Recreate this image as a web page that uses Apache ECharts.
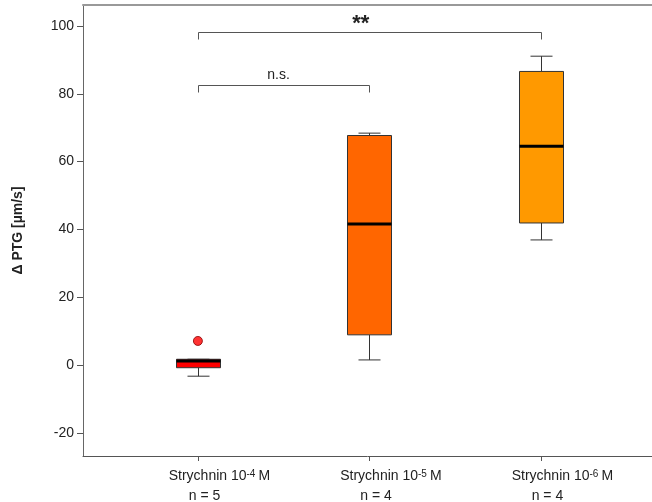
<!DOCTYPE html>
<html><head><meta charset="utf-8">
<script src="https://cdn.jsdelivr.net/npm/echarts@6/dist/echarts.min.js"></script>
<style>html,body{margin:0;padding:0;background:#fff}#c{width:652px;height:502px}</style>
</head><body><div id="c"></div>
<script>
// ---- data ----
const positions = [1, 2, 3];
const exponents = ['-4', '-5', '-6'];
const nLabels = ['n = 5', 'n = 4', 'n = 4'];
const lowWhisker = [-3.3, 1.5, 36.9];
const q1 = [-0.8, 8.9, 41.9];
const median = [1.2, 41.6, 64.5];
const q3 = [1.7, 67.7, 86.6];
const highWhisker = [1.7, 68.4, 91.1];
const boxColors = ['#FF0000', '#FF6600', '#FF9900'];
const outliers = [[1, 7.1]];
const yTicks = [-20, 0, 20, 40, 60, 80, 100];
// significance brackets: from, to, height, label, label x
const bracketFrom = [1, 1];
const bracketTo = [2, 3];
const bracketY = [82.6, 98.2];
const bracketText = ['n.s.', '**'];
const bracketTextX = [1.47, 1.95];

const boxData = positions.map((p, i) => [p, lowWhisker[i], q1[i], median[i], q3[i], highWhisker[i], i]);
const bracketData = bracketFrom.map((f, i) => [f, bracketTo[i], bracketY[i], bracketTextX[i], i]);

const chart = echarts.init(document.getElementById('c'));
const FONT = '"Liberation Sans", Arial, sans-serif';

function renderBox(params, api) {
  const x = api.value(0);
  const pLow = api.coord([x, api.value(1)]);
  const pQ1 = api.coord([x, api.value(2)]);
  const pMed = api.coord([x, api.value(3)]);
  const pQ3 = api.coord([x, api.value(4)]);
  const pHigh = api.coord([x, api.value(5)]);
  const bw = Math.round(api.size([0.256, 0])[0]);
  const cw = Math.round(api.size([0.128, 0])[0]);
  const cx = Math.round(pQ1[0]) + 0.5;
  const color = boxColors[api.value(6)];
  const ws = { stroke: '#333', lineWidth: 1 };
  const children = [
    { type: 'line', shape: { x1: cx, y1: pQ1[1], x2: cx, y2: pLow[1] }, style: ws },
    { type: 'line', shape: { x1: cx - cw / 2, y1: pLow[1], x2: cx + cw / 2, y2: pLow[1] }, style: ws },
    { type: 'line', shape: { x1: cx, y1: pQ3[1], x2: cx, y2: pHigh[1] }, style: ws },
    { type: 'line', shape: { x1: cx - cw / 2, y1: pHigh[1], x2: cx + cw / 2, y2: pHigh[1] }, style: ws },
    { type: 'rect', shape: { x: cx - bw / 2, y: pQ3[1], width: bw, height: pQ1[1] - pQ3[1] },
      style: { fill: color, stroke: '#333', lineWidth: 1 } },
    { type: 'line', shape: { x1: cx - bw / 2, y1: pMed[1], x2: cx + bw / 2, y2: pMed[1] },
      style: { stroke: '#000', lineWidth: 3 } }
  ];
  return { type: 'group', children };
}

function renderBracket(params, api) {
  const a = api.coord([api.value(0), api.value(2)]);
  const b = api.coord([api.value(1), api.value(2)]);
  const t = api.coord([api.value(3), api.value(2)]);
  const y = Math.round(a[1]) + 0.5;
  const drop = 7;
  const idx = api.value(4);
  const isStar = bracketText[idx] === '**';
  return { type: 'group', children: [
    { type: 'polyline', shape: { points: [[Math.round(a[0]) + 0.5, y + drop], [Math.round(a[0]) + 0.5, y], [Math.round(b[0]) + 0.5, y], [Math.round(b[0]) + 0.5, y + drop]] },
      style: { stroke: '#555', lineWidth: 1, fill: null } },
    { type: 'text', x: t[0], y: y + (isStar ? 2 : -3),
      style: { text: bracketText[idx], fill: '#222', align: 'center', verticalAlign: 'bottom',
        font: (isStar ? 'bold 22px ' : '14px ') + FONT } }
  ]};
}

chart.setOption({
  animation: false,
  backgroundColor: '#fff',
  grid: { left: 83, right: 0, top: 5, bottom: 46, outerBoundsMode: 'none', containLabel: false },
  xAxis: [{
    type: 'value', min: 0.33, max: 3.648,
    splitLine: { show: false },
    axisLine: { show: true, onZero: false, lineStyle: { color: '#555', width: 1 } },
    axisTick: { show: true, customValues: positions, length: 5, lineStyle: { color: '#555' } },
    axisLabel: {
      customValues: positions, margin: 10, color: '#222', fontFamily: FONT,
      formatter: v => {
        const i = positions.indexOf(v);
        return '{a0|Strychnin 10}{s|' + exponents[i] + '}{a|M}\n{b|' + nLabels[i] + '}';
      },
      rich: {
        a0: { fontSize: 14, fontFamily: FONT, color: '#222', align: 'left', lineHeight: 20, padding: [0, 0, 0, 43] },
        a: { fontSize: 14, fontFamily: FONT, color: '#222', align: 'left', lineHeight: 20, padding: [0, 0, 0, 3] },
        s: { fontSize: 10, fontFamily: FONT, color: '#222', align: 'left', lineHeight: 10, verticalAlign: 'top', padding: [3, 0, 0, 0] },
        b: { fontSize: 14, fontFamily: FONT, color: '#222', align: 'left', lineHeight: 20, padding: [0, 0, 0, 63] }
      }
    }
  }, {
    type: 'value', position: 'top', min: 0.33, max: 3.648,
    splitLine: { show: false }, axisTick: { show: false }, axisLabel: { show: false },
    axisLine: { show: true, onZero: false, lineStyle: { color: '#999', width: 2 } }
  }],
  yAxis: {
    type: 'value', min: -26.84, max: 106.2,
    name: 'Δ PTG [µm/s]', nameLocation: 'middle', nameGap: 58,
    nameTextStyle: { fontFamily: FONT, fontSize: 14, fontWeight: 'bold', color: '#222' },
    splitLine: { show: false },
    axisLine: { show: true, onZero: false, lineStyle: { color: '#666', width: 1 } },
    axisTick: { show: true, customValues: yTicks, length: 6, lineStyle: { color: '#555' } },
    axisLabel: { customValues: yTicks, margin: 9, fontSize: 14, fontFamily: FONT, color: '#222' }
  },
  series: [
    { type: 'custom', renderItem: renderBox, data: boxData, encode: { x: 0, y: [1, 5] }, z: 2 },
    { type: 'scatter', data: outliers, symbolSize: 9,
      itemStyle: { color: '#FF0000', borderColor: '#800', borderWidth: 1 }, z: 3 },
    { type: 'custom', renderItem: renderBracket, data: bracketData, encode: { x: [0, 1], y: 2 }, z: 2 }
  ]
});
</script></body></html>
